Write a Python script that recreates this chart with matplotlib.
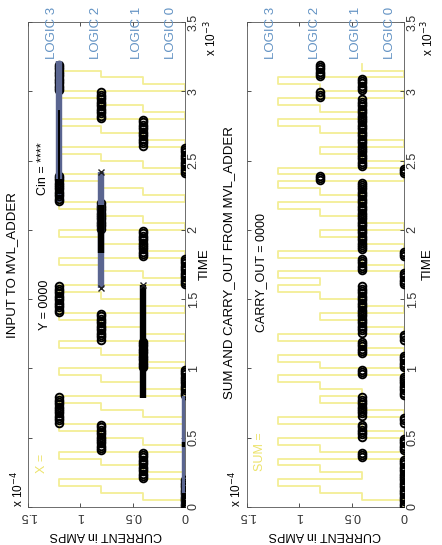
import numpy as np
import matplotlib
matplotlib.use('Agg')
import matplotlib.pyplot as plt

plt.rcParams['font.family'] = ['Liberation Sans', 'DejaVu Sans']

# time in units of 1e-3 s, current in units of 1e-4 A
step_ms = 0.05                      # one digit lasts 0.05e-3 s
logic_levels = [0.0, 0.4, 0.8, 1.2]  # LOGIC 0..3 currents
logic_names = ['LOGIC 0', 'LOGIC 1', 'LOGIC 2', 'LOGIC 3']
time_ticks = [0, 0.5, 1, 1.5, 2, 2.5, 3, 3.5]
time_labels = ['0', '0.5', '1', '1.5', '2', '2.5', '3', '3.5']
cur_ticks = [0, 0.5, 1, 1.5]
cur_labels = ['0', '0.5', '1', '1.5']

# input X (yellow staircase), input Y (black circles), one digit per step
x_digits = ("0123012301230123" "0123012301230123"
            "0123012301230123" "0123012301230123")
y_digits = ("0000111122223333" "0000111122223333"
            "0000111122223333" "0000111122223333")
# Cin bars (start, end in ms, level)
cin_start = [0.0, 0.79, 1.58, 2.37]
cin_end = [0.80, 1.60, 2.42, 3.22]
cin_level = [0.0, 0.4, 0.8, 1.2]
cin_color = ['#5a6590', 'black', '#5a6590', '#5a6590']
cin_dark_start = [0.0, 0.43, 1.83]
cin_dark_end = [0.10, 0.47, 2.18]
cin_dark_level = [0.0, 0.0, 0.8]

# outputs
sum_digits = ("0123" "1230" "2301" "3012" "1230" "2301" "3012" "0123"
              "2301" "3012" "0123" "1230" "3012" "0123" "1230" "2301")
carry_digits = ("0000" "0001" "0011" "0111" "0001" "0011" "0111" "1111"
                "0011" "0111" "1111" "1112" "0111" "1111" "1112" "1122")

yellow = '#f3ee95'
blue_txt = '#6393c4'


def staircase(digits):
    lev = np.array([logic_levels[int(d)] for d in digits])
    t0 = np.arange(len(digits)) * step_ms
    return np.repeat(lev, 2), np.column_stack([t0, t0 + step_ms]).ravel()


def samples(digits):
    # three samples inside every digit
    lev = np.array([logic_levels[int(d)] for d in digits])
    t0 = np.arange(len(digits)) * step_ms
    off = [step_ms / 6, step_ms / 2, 5 * step_ms / 6]
    return np.tile(lev, 3), np.concatenate([t0 + o for o in off])


fig = plt.figure(figsize=(4.42, 5.45), dpi=100)
axL = fig.add_axes([28 / 442, 38 / 545, 157 / 442, 485 / 545])
axR = fig.add_axes([247 / 442, 38 / 545, 157 / 442, 485 / 545])

for ax in (axL, axR):
    ax.set_xlim(1.5, 0)
    ax.set_ylim(0, 3.5)
    ax.set_xticks(cur_ticks)
    ax.set_xticklabels(cur_labels, rotation=180, fontsize=9)
    ax.set_yticks(time_ticks)
    ax.set_yticklabels(time_labels, rotation=90, va='center', fontsize=9)
    ax.tick_params(direction='in', length=3, width=0.6, pad=2,
                   left=True, right=True, top=True, bottom=True,
                   labelleft=False, labelright=True, colors='#333333')
    for s in ax.spines.values():
        s.set_linewidth(0.6)
        s.set_color('#555555')
    for name, pos in zip(logic_names, [0.13, 0.46, 0.85, 1.27]):
        ax.text(pos, 3.23, name, rotation=90, ha='center', va='bottom',
                color=blue_txt, fontsize=9.5, clip_on=False)

# left: inputs
xs, ys = staircase(x_digits)
axL.plot(xs, ys, color=yellow, lw=1.3, zorder=1)
axL.plot([1.2, 1.2], [2.2, 2.37], color=cin_color[3], lw=4.3,
         solid_capstyle='butt', zorder=2)
xs, ys = samples(y_digits)
axL.plot(xs, ys, 'o', ms=5.5, mfc='none', mec='black', mew=1.4, zorder=3)
for a, b, lev, c in zip(cin_start, cin_end, cin_level, cin_color):
    axL.plot([lev, lev], [a, b], color=c, lw=4.6, solid_capstyle='butt', zorder=4)
for a, b, lev in zip(cin_dark_start, cin_dark_end, cin_dark_level):
    axL.plot([lev, lev], [a, b], color='black', lw=4.6, solid_capstyle='butt', zorder=5)
axL.plot([1.2, 1.2], [2.37, 2.86], color='black', lw=1.4, zorder=5)
axL.plot([0.4, 0.8, 0.8], [1.6, 1.58, 2.42], 'x', color='#222222', ms=4, mew=1, zorder=6)

axL.text(1.34, 1.28, 'Y = 0000', rotation=90, ha='center', va='bottom', fontsize=9)
axL.text(1.36, 2.25, 'Cin = ****', rotation=90, ha='center', va='bottom', fontsize=9)
axL.text(1.37, 0.245, 'X =', rotation=90, ha='center', va='bottom', fontsize=9,
         color='#ece36a')

# right: outputs
xs, ys = staircase(sum_digits)
axR.plot(xs, ys, color=yellow, lw=1.3, zorder=1)
xs, ys = samples(carry_digits)
axR.plot(xs, ys, 'o', ms=5.5, mfc='none', mec='black', mew=1.4, zorder=3)
axR.text(1.37, 1.26, 'CARRY_OUT = 0000', rotation=90, ha='center', va='bottom',
         fontsize=9)
axR.text(1.375, 0.26, 'SUM =', rotation=90, ha='center', va='bottom', fontsize=9,
         color='#ece36a')

# titles, axis labels and exponents (figure is turned on its side)
fig.text(12 / 442, 1 - 265 / 545, 'INPUT TO MVL_ADDER', rotation=90,
         ha='center', va='center', fontsize=9.5)
fig.text(229 / 442, 1 - 263 / 545, 'SUM AND CARRY_OUT FROM MVL_ADDER', rotation=90,
         ha='center', va='center', fontsize=9.5)
for xc, xt, xe, xm in [(106, 205, 18, 211), (325, 428, 236, 428)]:
    fig.text(xc / 442, 1 - 535 / 545, 'CURRENT in AMPS', rotation=180,
             ha='center', va='center', fontsize=9)
    fig.text(xt / 442, 1 - 264 / 545, 'TIME', rotation=90,
             ha='center', va='center', fontsize=9.5)
    fig.text(xe / 442, 1 - 507 / 545, r'x 10$^{-4}$', rotation=90,
             ha='center', va='bottom', fontsize=8.5)
    fig.text(xm / 442, 1 - 56 / 545, r'x 10$^{-3}$', rotation=90,
             ha='center', va='bottom', fontsize=8.5)

fig.savefig('out.png', dpi=100)
